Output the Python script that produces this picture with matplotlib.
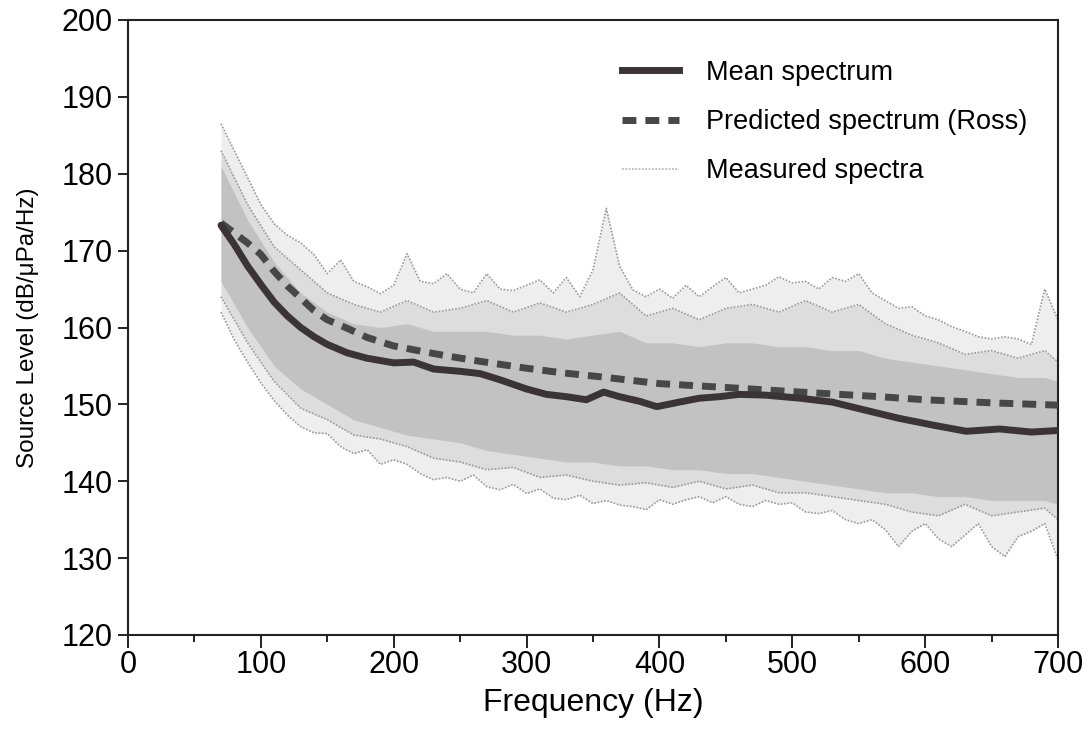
import numpy as np
import matplotlib
matplotlib.use("Agg")
import matplotlib.pyplot as plt
from matplotlib.lines import Line2D
from matplotlib.ticker import MultipleLocator

plt.rcParams['font.family'] = ['Liberation Sans', 'DejaVu Sans']

# ---- data ----
freq_env = np.arange(70, 701, 10)
meas_upper = [186.5, 183.0, 179.5, 176.0, 173.5, 172.0, 171.0, 169.5, 167.0, 168.8,
              166.0, 165.3, 164.4, 165.5, 169.6, 166.0, 165.7, 167.0, 165.0, 164.5,
              167.0, 165.0, 164.8, 165.5, 166.2, 164.5, 166.5, 164.0, 167.5, 175.5,
              168.0, 164.9, 164.0, 165.0, 163.8, 165.5, 164.0, 165.3, 166.5, 164.5,
              165.0, 165.5, 166.6, 165.8, 166.0, 165.0, 166.5, 166.0, 167.0, 164.5,
              163.5, 162.5, 162.7, 161.5, 161.0, 160.1, 159.5, 158.8, 158.5, 158.8,
              158.5, 157.8, 165.0, 161.0]
meas_lower = [162.0, 158.4, 155.5, 152.8, 150.5, 148.6, 147.1, 146.3, 146.2, 144.5,
              143.6, 144.1, 142.2, 142.8, 142.2, 141.0, 140.2, 140.5, 140.0, 140.8,
              139.3, 138.9, 139.6, 138.4, 139.0, 137.8, 137.6, 138.2, 137.1, 137.5,
              136.9, 136.7, 136.3, 137.6, 137.0, 137.6, 138.0, 137.2, 138.0, 137.0,
              136.7, 137.5, 137.0, 137.2, 136.0, 135.8, 136.2, 135.0, 134.5, 135.0,
              133.7, 131.5, 133.5, 134.5, 132.5, 131.5, 133.0, 134.5, 131.5, 130.2,
              132.8, 133.5, 134.5, 129.8]

freq_mid = [70, 90, 110, 130, 150, 170, 190, 210, 230, 250, 270, 290, 310, 330, 350,
            370, 390, 410, 430, 450, 470, 490, 510, 530, 550, 570, 590, 610, 630,
            650, 670, 690, 700]
meas_hi2 = [183, 176, 170.5, 167.5, 164.5, 163, 162, 163.5, 162, 162.5, 163.5, 162,
            163.2, 162, 163, 164.5, 161.5, 162.5, 161, 162.5, 163, 162, 163.5, 162,
            163, 160.5, 159, 158, 156.5, 157, 156, 157, 155.5]
meas_lo2 = [164, 158, 153, 149.5, 148, 146, 145.5, 144.5, 143, 142.5, 141.5, 141.8,
            140.5, 140.8, 140, 139.5, 139.8, 139.2, 140, 139, 139.5, 138.5, 138.5,
            138, 137.5, 137, 136, 135.5, 137, 135.5, 136, 136.5, 135]
dense_hi = [181, 174, 168.5, 164.5, 162, 160.5, 160, 160.5, 159.5, 159.5, 159.5, 159,
            159, 158.5, 159, 159.5, 158, 158, 157.5, 158, 158, 157.5, 157.5, 157,
            157, 156, 155.5, 155, 154.5, 154, 153.5, 153.5, 153]
dense_lo = [166, 160, 155, 152, 150, 148, 147, 146, 145.5, 145, 144, 143.5, 143,
            142.5, 142.5, 142, 142, 141.5, 141.5, 141, 141, 140.5, 140, 139.5, 139,
            138.5, 138.5, 138, 138, 137.5, 137.5, 137.5, 137]

freq_mean = [70, 80, 90, 100, 110, 120, 130, 140, 150, 165, 180, 200, 215, 230, 250,
             265, 280, 300, 315, 330, 345, 358, 370, 385, 398, 415, 430, 445, 460,
             480, 506, 530, 556, 580, 606, 631, 656, 680, 700]
mean_spec = [173.3, 170.8, 168.0, 165.6, 163.3, 161.5, 160.0, 158.8, 157.8, 156.7,
             156.0, 155.4, 155.5, 154.6, 154.3, 154.0, 153.2, 152.0, 151.3, 151.0,
             150.6, 151.6, 151.0, 150.4, 149.7, 150.3, 150.8, 151.0, 151.3, 151.2,
             150.8, 150.3, 149.2, 148.2, 147.3, 146.5, 146.8, 146.4, 146.6]

freq_pred = [70, 80, 90, 100, 110, 120, 130, 140, 150, 165, 180, 200, 215, 240, 265,
             300, 327, 355, 400, 450, 506, 566, 600, 650, 700]
pred_spec = [173.6, 172.3, 171.0, 169.5, 167.3, 165.4, 163.8, 162.2, 161.0, 159.9,
             158.7, 157.6, 157.1, 156.3, 155.6, 154.7, 154.1, 153.6, 152.7, 152.2,
             151.6, 151.0, 150.6, 150.2, 149.9]

x_ticks = [0, 100, 200, 300, 400, 500, 600, 700]
y_ticks = [120, 130, 140, 150, 160, 170, 180, 190, 200]
labels = ["Mean spectrum", "Predicted spectrum (Ross)", "Measured spectra"]

# ---- figure ----
fig = plt.figure(figsize=(10.89, 7.35), dpi=100)
ax = fig.add_axes([128/1089, 1 - 635/735, 930/1089, 615/735])

meas_col = '#9a9a9a'
ax.fill_between(freq_env, meas_lower, meas_upper, color='#eeeeee', lw=0, zorder=1)
ax.fill_between(freq_mid, meas_lo2, meas_hi2, color='#dddddd', lw=0, zorder=1.2)
ax.fill_between(freq_mid, dense_lo, dense_hi, color='#c2c2c2', lw=0, zorder=1.4)
for xs, ys in [(freq_env, meas_upper), (freq_env, meas_lower),
               (freq_mid, meas_hi2), (freq_mid, meas_lo2)]:
    ax.plot(xs, ys, color=meas_col, lw=1.2, ls=(0, (1, 1)), zorder=2)

ax.plot(freq_pred, pred_spec, color='#474747', lw=5, dashes=(2.0, 1.3),
        dash_capstyle='butt', zorder=3)
ax.plot(freq_mean, mean_spec, color='#3b3437', lw=5, solid_capstyle='round', zorder=4)

ax.set_xlim(0, 700)
ax.set_ylim(120, 200)
ax.set_xticks(x_ticks)
ax.set_yticks(y_ticks)
ax.xaxis.set_minor_locator(MultipleLocator(50))
ax.tick_params(axis='x', which='major', direction='out', length=9, width=1.4,
               labelsize=22, pad=1.5, color='#222')
ax.tick_params(axis='x', which='minor', direction='out', length=5, width=1.4,
               color='#222')
ax.tick_params(axis='y', which='major', direction='out', length=7, width=1.4,
               labelsize=22, pad=4, color='#222')
for s in ax.spines.values():
    s.set_linewidth(1.5)
    s.set_color('#222')

ax.set_xlabel("Frequency (Hz)", fontsize=23, labelpad=6)
ax.set_ylabel("Source Level (dB/\u03bcPa/Hz)", fontsize=17.5, labelpad=16)

handles = [
    Line2D([], [], color='#3b3437', lw=5),
    Line2D([], [], color='#474747', lw=5, dashes=(2.0, 1.3)),
    Line2D([], [], color='#b0b0b0', lw=1.2, ls=(0, (1, 1))),
]
ax.legend(handles, labels, loc='upper left', bbox_to_anchor=(0.531, 0.935),
          frameon=False, fontsize=19.5, handlelength=2.1, handletextpad=1.0,
          labelspacing=0.85, borderpad=0, borderaxespad=0)

fig.savefig("out.png", dpi=100, facecolor='white')
